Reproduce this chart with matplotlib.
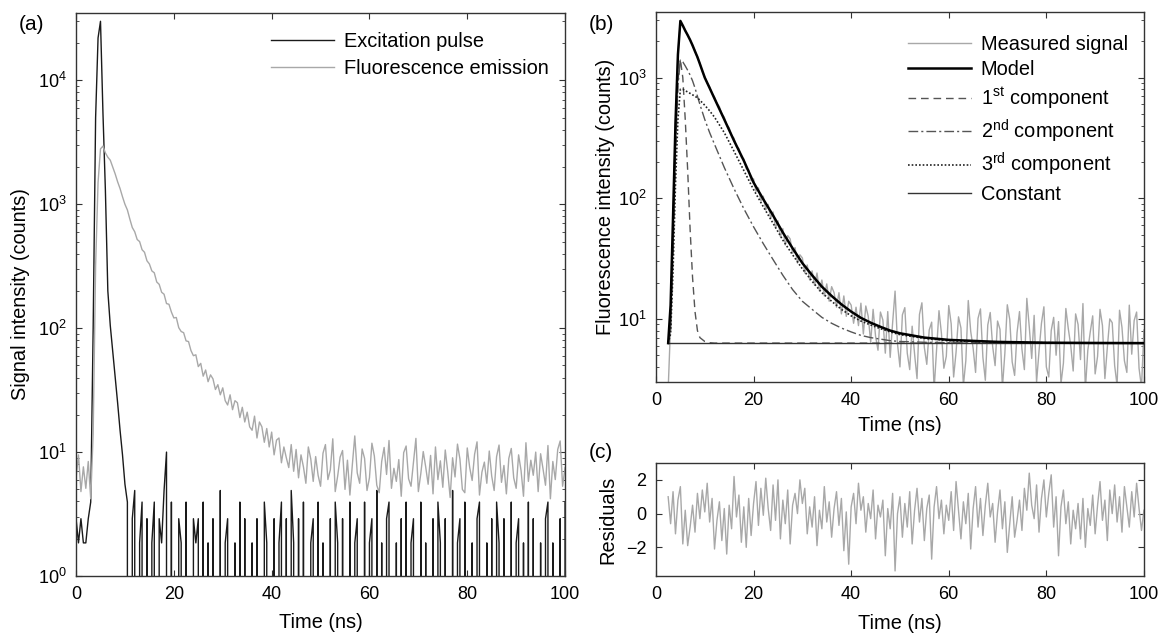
import matplotlib
matplotlib.use("Agg")
import matplotlib.pyplot as plt
import numpy as np
from matplotlib.ticker import NullFormatter

plt.rcParams["font.family"] = ["Liberation Sans", "DejaVu Sans"]
plt.rcParams["mathtext.default"] = "regular"
plt.rcParams["font.size"] = 14.4

STEP = 0.5          # ns between samples of the noisy traces
FIT_START = 2.5     # first sample of the fitted window in (b)/(c)

# (a) raw traces, sampled every STEP ns from t = 0
excitation = [
    2.9, 1.85, 2.9, 1.85, 1.85, 2.9, 3.95, 100, 5000, 22000,
    30000, 5500, 1300, 200, 105, 65, 40, 25, 15, 9.5,
    5.5, 3.95, 0, 2.9, 4.9, 0, 1.85, 3.95, 0, 2.9,
    0, 1.85, 3.95, 0, 2.9, 1.85, 4.9, 10, 0, 3.95,
    0, 0, 2.9, 1.85, 0, 3.95, 0, 0, 2.9, 1.85,
    2.9, 0, 3.95, 0, 1.85, 0, 2.9, 0, 0, 4.9,
    0, 1.85, 2.9, 0, 0, 1.85, 0, 3.95, 0, 2.9,
    0, 0, 1.85, 0, 2.9, 0, 0, 3.95, 1.85, 0,
    0, 2.9, 0, 1.85, 3.95, 0, 2.9, 0, 4.9, 1.85,
    0, 2.9, 0, 3.95, 0, 0, 1.85, 2.9, 0, 3.95,
    0, 1.85, 0, 0, 2.9, 0, 3.95, 1.85, 0, 2.9,
    0, 0, 3.95, 0, 1.85, 2.9, 0, 0, 3.95, 0,
    1.85, 2.9, 0, 4.9, 0, 1.85, 0, 2.9, 3.95, 0,
    0, 1.85, 0, 2.9, 0, 3.95, 0, 1.85, 2.9, 0,
    0, 3.95, 0, 1.85, 0, 0, 2.9, 0, 3.95, 1.85,
    0, 2.9, 0, 0, 4.9, 0, 1.85, 2.9, 0, 3.95,
    0, 0, 1.85, 0, 2.9, 3.95, 0, 0, 1.85, 0,
    2.9, 0, 3.95, 1.85, 0, 2.9, 0, 0, 3.95, 0,
    1.85, 2.9, 0, 1.85, 0, 3.95, 0, 2.9, 0, 0,
    1.85, 0, 2.9, 3.95, 0, 1.85, 0, 0, 2.9, 0,
    3.95,
]
emission = [
    6.2, 9.5, 4.8, 7.6, 5.1, 8.4, 4.2, 14, 320, 1500,
    2800, 2950, 2600, 2400, 2270, 2000, 1760, 1520, 1340, 1150,
    1000, 900, 760, 650, 600, 520, 500, 430, 410, 350,
    330, 290, 280, 236, 226, 195, 188, 158, 156, 135,
    121, 122, 101, 94, 92, 79, 78, 66, 60, 61,
    49, 52, 41, 46, 37, 42, 39, 32, 35, 29,
    33, 26, 24, 29, 22, 26, 25, 19, 23, 17.5,
    21, 16, 15, 19.5, 13, 17.5, 16, 12, 15.5, 11,
    14.5, 9.5, 12.5, 13, 8.2, 11, 9, 7.5, 11.5, 7,
    10.5, 6.2, 9.5, 7.6, 5.6, 11, 8.8, 5.8, 9.2, 6.5,
    5.3, 9.8, 11.5, 6.0, 7.2, 12.8, 4.8, 6.4, 9.1, 10.3,
    5.0, 8.6, 4.5, 7.9, 13.5, 6.8, 5.6, 10.6, 8.9, 4.9,
    6.2, 11.8, 9.3, 5.4, 4.7, 8.4, 10.9, 6.6, 12.4, 5.1,
    7.4, 5.8, 8.7, 4.4, 9.9, 11.2, 6.1, 5.3, 8.2, 12.9,
    4.8, 6.7, 10.1, 7.6, 5.5, 9.4, 4.6, 11.0, 6.0, 8.5,
    5.2, 10.4, 7.0, 4.3, 9.0, 6.3, 11.6, 8.8, 5.0, 4.7,
    10.8, 7.5, 5.9, 9.6, 12.1, 4.5, 6.9, 8.3, 5.6, 10.2,
    6.4, 4.9, 9.2, 11.4, 5.7, 7.8, 4.6, 8.9, 10.7, 6.2,
    5.1, 9.5, 7.1, 4.4, 11.9, 5.8, 8.6, 6.5, 10.0, 4.8,
    9.7, 7.3, 5.4, 11.3, 4.2, 8.4, 6.0, 10.5, 12.3, 5.3,
    7.5,
]

# (b) measured signal and (c) residuals, every STEP ns from FIT_START
measured = [
    2.6, 9, 62, 410, 1560, 2920, 2680, 2480, 2230, 2080,
    1820, 1680, 1450, 1320, 1120, 1020, 900, 840, 735, 690,
    610, 575, 500, 470, 405, 385, 330, 315, 268, 258,
    218, 212, 175, 172, 140, 145, 114, 122, 95, 104,
    80, 89, 68, 77, 57, 65, 48, 56, 41, 49,
    46, 35, 39, 29, 34, 32, 24, 28, 21, 25,
    19, 24, 17, 21, 15.5, 19.5, 14, 18.5, 16.5, 12.5,
    16.5, 11, 15.5, 10.5, 14, 13, 9.2, 12.5, 8.8, 13.5,
    7.5, 12.8, 10.5, 6.4, 12, 7.2, 5.5, 11.4, 9.8, 5.2,
    11.5, 4.8, 9.3, 17, 6.2, 4.0, 10.8, 12.4, 5.2, 3.8,
    8.7, 5.1, 3.2, 10.9, 13.6, 5.8, 4.2, 8.1, 9.4, 2.6,
    5.5, 11.7, 7.6, 3.9, 4.9, 12.9, 9.1, 3.3, 5.3, 10.4,
    8.4, 2.8, 4.5, 14.2, 7.9, 5.7, 3.6, 10.1, 12.1, 4.8,
    3.1, 8.9, 11.3, 5.9, 4.1, 9.6, 8.2, 2.7, 5.2, 13.1,
    9.9, 4.4, 3.4, 7.7, 11.5, 5.6, 3.8, 14.8, 8.6, 4.7,
    10.7, 3.0, 5.4, 9.2, 12.6, 4.0, 3.3, 8.0, 10.3, 5.0,
    9.5, 2.9, 4.3, 12.2, 8.3, 6.0, 3.7, 11.0, 9.0, 4.6,
    13.4, 2.6, 5.5, 7.8, 10.6, 3.5, 4.9, 12.0, 8.8, 3.2,
    5.8, 10.0, 9.3, 4.1, 2.8, 11.8, 8.5, 4.5, 3.6, 13.0,
    5.1, 9.7, 11.4, 3.9, 2.7, 8.1,
]
residuals = [
    1.0, -0.6, 1.3, -1.2, 0.8, 1.6, -1.8, 0.2, -1.9, -0.8,
    0.5, -1.1, 1.2, -0.3, 1.4, 0.1, 1.8, -0.5, 0.9, -2.1,
    -0.4, 0.7, -1.6, 0.3, -2.4, 0.5, -0.9, 2.2, -0.2, 1.1,
    -1.7, 0.4, -2.0, 0.9, -1.3, 0.6, 1.9, -0.7, 1.5, -0.1,
    2.1, 0.3, -1.0, 1.7, -0.4, 2.0, -1.5, 0.8, -0.6, 1.4,
    -1.8, 0.5, 1.2, 0.0, 2.0, 0.6, 1.5, -1.2, 0.4, -0.8,
    1.0, -1.9, 0.2, -0.9, 1.6, -0.5, 0.7, -1.4, 0.3, 1.3,
    -0.7, 0.9, -2.2, 0.1, -3.0, 0.4, 1.2, -0.6, 1.8, 0.2,
    1.0, -1.1, 0.6, -0.3, 1.4, -1.5, 0.5, -0.2, 0.8, -2.5,
    0.3, -0.9, 1.2, -3.4, 0.0, 1.0, -1.4, 0.6, -0.8, 1.3,
    -1.8, 0.2, 1.5, -0.5, 0.9, -1.6, 0.3, 1.1, -2.7, 0.4,
    1.6, -0.3, 0.8, -1.2, 0.5, -0.4, 1.3, -1.0, 1.9, 0.2,
    -1.5, 0.7, -0.6, 1.2, -2.1, 0.3, 1.6, -0.8, 0.9, -1.3,
    0.5, 1.8, -0.2, 0.6, -1.7, 0.1, 1.4, -0.9, 0.7, -2.3,
    -0.6, 1.0, -1.4, -0.4, 0.8, -1.0, 1.5, 0.2, 2.4, 0.5,
    -0.3, 1.7, -1.1, 0.9, 2.0, -0.2, 1.2, 2.3, -0.8, 1.0,
    -2.5, 0.4, 1.4, -0.6, 0.7, -1.8, 0.2, -0.9, 0.6, -1.5,
    0.9, -2.0, 0.3, -0.7, 1.1, -1.2, 0.5, 1.9, -0.4, 0.8,
    -1.6, 1.4, 0.0, 1.7, -0.5, 1.0, -1.1, 1.6, 0.4, -0.8,
    1.3, -0.2, 1.8, 0.3, -1.0, 0.2,
]

# (b) fitted curves, read at these times (ns)
fit_t = [2.5, 3.0, 3.5, 4.0, 4.5, 5.0, 5.5, 6.0, 6.5, 7.0, 7.5, 8.0, 8.5, 9.0,
         10, 11, 12, 14, 16, 18, 20, 22, 24, 26, 28, 30, 32, 34, 36, 38, 40,
         42, 44, 46, 48, 50, 55, 60, 70, 80, 90, 100]
model = [6.3, 13, 70, 420, 1550, 2950, 2700, 2450, 2250, 2050, 1850, 1650, 1480, 1300,
         1000, 820, 670, 450, 300, 205, 135, 98, 72, 52, 38.5, 29, 23, 18.5, 15.5, 13.2, 11.5,
         10.2, 9.3, 8.6, 8.0, 7.6, 7.0, 6.7, 6.45, 6.35, 6.32, 6.3]
comp2 = [6.3, 8, 35, 230, 850, 1400, 1350, 1250, 1150, 1050, 940, 820, 700, 600,
         450, 350, 280, 180, 120, 82, 58, 42, 31, 23, 17.5, 14, 12, 10.3, 9.2, 8.4, 7.8,
         7.3, 7.0, 6.8, 6.6, 6.5, 6.4, 6.35, 6.3, 6.3, 6.3, 6.3]
comp3 = [6.3, 7.5, 25, 130, 450, 800, 800, 780, 760, 740, 720, 700, 680, 650,
         590, 530, 470, 350, 245, 170, 118, 85, 62, 45, 34, 26, 20.5, 16.5, 14, 12, 10.6,
         9.6, 8.9, 8.3, 7.8, 7.4, 6.9, 6.6, 6.4, 6.35, 6.3, 6.3]
comp1_t = [2.5, 3.0, 3.5, 4.0, 4.5, 5.0, 5.5, 6.0, 6.5, 7.0, 7.5, 8.0, 8.5, 9.0, 10, 11, 12, 100]
comp1 = [6.3, 8.5, 40, 260, 950, 1420, 1000, 450, 170, 55, 22, 11.5, 8.0, 7.0, 6.5, 6.35, 6.3, 6.3]
constant_t = [2.5, 100]
constant = [6.3, 6.3]

t_raw = np.arange(len(emission)) * STEP
t_fit = FIT_START + np.arange(len(measured)) * STEP

C_AXIS = "#333333"
GRAY = "#a8a8a8"
TICK_FS = 13


def style(ax, log=True):
    for s in ax.spines.values():
        s.set_color(C_AXIS)
        s.set_linewidth(1.0)
    ax.tick_params(which="both", direction="in", top=True, right=True,
                   colors=C_AXIS, labelcolor="black", pad=7, labelsize=TICK_FS)
    ax.tick_params(which="major", length=4)
    ax.tick_params(which="minor", length=2.2)
    ax.set_xlim(0, 100)
    ax.set_xticks([0, 20, 40, 60, 80, 100])
    if log:
        ax.yaxis.set_minor_formatter(NullFormatter())


fig = plt.figure(figsize=(11.61, 6.34), dpi=100)
ax_a = fig.add_axes([0.0655, 0.0915, 0.4212, 0.888])
ax_b = fig.add_axes([0.565, 0.3975, 0.4203, 0.5836])
ax_c = fig.add_axes([0.565, 0.0915, 0.4203, 0.1782])

leg_kw = dict(loc="upper right", frameon=False, handlelength=3.15,
              handletextpad=0.5, borderaxespad=0.4)

# --- (a) excitation pulse vs fluorescence emission ---------------------------
ax_a.set_yscale("log", nonpositive="clip")
ax_a.plot(t_raw, excitation, color="#1a1a1a", lw=1.0, label="Excitation pulse")
ax_a.plot(t_raw, emission, color=GRAY, lw=1.0, label="Fluorescence emission")
ax_a.set_ylim(1, 35000)
style(ax_a)
ax_a.set_xlabel("Time (ns)")
ax_a.set_ylabel("Signal intensity (counts)")
ax_a.yaxis.set_label_coords(-0.094, 0.5)
ax_a.xaxis.set_label_coords(0.5, -0.066)
ax_a.legend(bbox_to_anchor=(1.0, 1 - 3 / 563), labelspacing=0.4, **leg_kw)

# --- (b) measured signal and fitted model -----------------------------------
ax_b.set_yscale("log", nonpositive="clip")
ax_b.plot(t_fit, measured, color=GRAY, lw=1.0, label="Measured signal")
ax_b.plot(fit_t, model, color="black", lw=1.8, label="Model", zorder=4)
ax_b.plot(comp1_t, comp1, color="#555555", lw=1.0, ls=(0, (5.5, 3.5)),
          label=r"1$^{st}$ component")
ax_b.plot(fit_t, comp2, color="#555555", lw=1.0, ls=(0, (7, 2.2, 1.5, 2.2)),
          label=r"2$^{nd}$ component")
ax_b.plot(fit_t, comp3, color="#222222", lw=1.2, ls=(0, (1, 1.2)),
          label=r"3$^{rd}$ component")
ax_b.plot(constant_t, constant, color="#333333", lw=1.0, label="Constant")
ax_b.set_ylim(3, 3500)
style(ax_b)
ax_b.set_xlabel("Time (ns)")
ax_b.set_ylabel("Fluorescence intensity (counts)")
ax_b.yaxis.set_label_coords(-0.084, 0.5)
ax_b.xaxis.set_label_coords(0.5, -0.092)
ax_b.legend(bbox_to_anchor=(1.0, 1 - 7 / 370), labelspacing=0.32, **leg_kw)

# --- (c) residuals ----------------------------------------------------------
ax_c.plot(t_fit, residuals, color=GRAY, lw=1.0)
ax_c.set_ylim(-3.7, 3)
ax_c.set_yticks([-2, 0, 2])
style(ax_c, log=False)
ax_c.set_xlabel("Time (ns)")
ax_c.set_ylabel("Residuals")
ax_c.yaxis.set_label_coords(-0.080, 0.5)
ax_c.xaxis.set_label_coords(0.5, -0.336)

for x_px, y_px, tag in [(31, 25, "(a)"), (601, 25, "(b)"), (601, 453, "(c)")]:
    fig.text(x_px / 1161, 1 - y_px / 634, tag, ha="center", va="center", fontsize=15)

fig.savefig("out.png", dpi=100)
